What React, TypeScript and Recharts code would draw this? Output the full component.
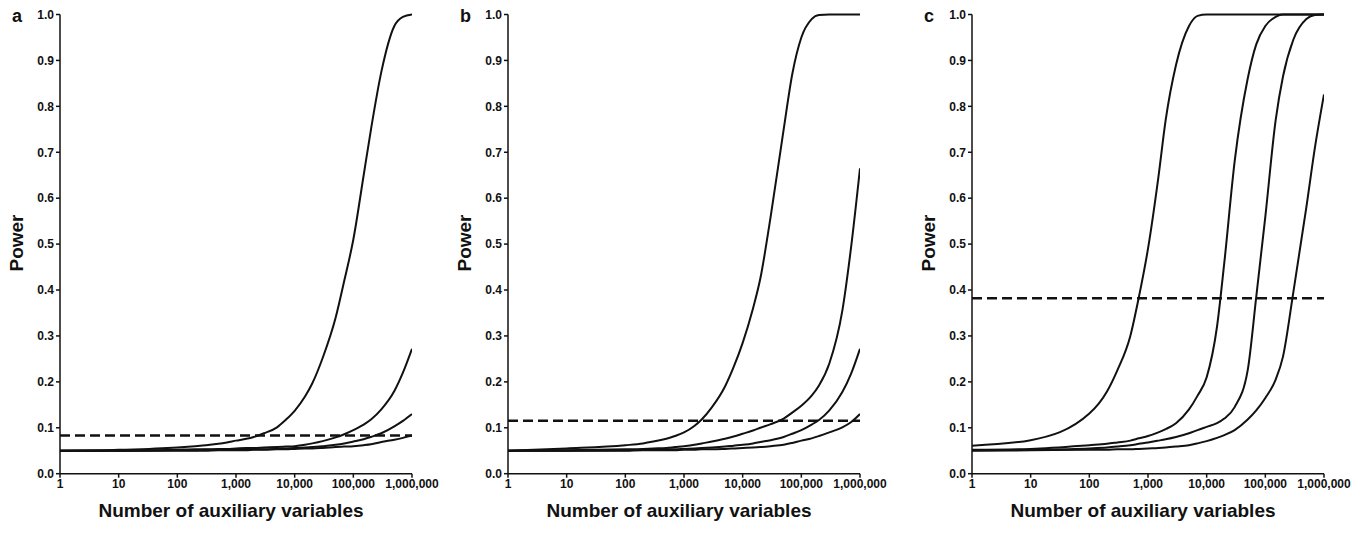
import React from 'react';
import { LineChart, Line, XAxis, YAxis, ReferenceLine } from 'recharts';

const N_VALUES = [1, 10, 100, 200, 300, 500, 700, 1000, 1500, 2000, 3000, 5000, 7000, 10000, 15000, 20000, 30000, 50000, 70000, 100000, 150000, 200000, 300000, 500000, 700000, 1000000];
const X_TICKS = [1, 10, 100, 1000, 10000, 100000, 1000000];
const Y_TICKS = [0, 0.1, 0.2, 0.3, 0.4, 0.5, 0.6, 0.7, 0.8, 0.9, 1.0];
const PANEL_LETTERS = ['a', 'b', 'c'];
const X_TITLE = 'Number of auxiliary variables';
const Y_TITLE = 'Power';

// Panel a
const A1 = [0.050, 0.052, 0.057, 0.060, 0.062, 0.065, 0.068, 0.072, 0.076, 0.080, 0.088, 0.101, 0.117, 0.137, 0.168, 0.197, 0.252, 0.340, 0.420, 0.510, 0.650, 0.750, 0.875, 0.975, 0.995, 1.000];
const A2 = [0.050, 0.050, 0.052, 0.053, 0.053, 0.054, 0.054, 0.055, 0.056, 0.056, 0.057, 0.058, 0.059, 0.060, 0.063, 0.066, 0.071, 0.079, 0.086, 0.095, 0.107, 0.118, 0.140, 0.180, 0.220, 0.272];
const A3 = [0.050, 0.050, 0.051, 0.051, 0.052, 0.052, 0.052, 0.052, 0.053, 0.053, 0.053, 0.054, 0.055, 0.056, 0.057, 0.058, 0.060, 0.063, 0.066, 0.070, 0.075, 0.080, 0.088, 0.103, 0.115, 0.130];
const A4 = [0.050, 0.050, 0.050, 0.050, 0.050, 0.051, 0.051, 0.051, 0.051, 0.052, 0.052, 0.053, 0.053, 0.054, 0.055, 0.055, 0.056, 0.058, 0.059, 0.060, 0.062, 0.064, 0.069, 0.074, 0.078, 0.083];
const A_DASH = 0.083;

// Panel b
const B1 = [0.050, 0.055, 0.062, 0.066, 0.070, 0.076, 0.082, 0.090, 0.104, 0.118, 0.145, 0.190, 0.232, 0.285, 0.360, 0.425, 0.560, 0.750, 0.870, 0.950, 0.990, 0.999, 1.000, 1.000, 1.000, 1.000];
const B2 = [0.050, 0.051, 0.053, 0.054, 0.055, 0.056, 0.058, 0.060, 0.063, 0.066, 0.070, 0.076, 0.081, 0.087, 0.094, 0.100, 0.108, 0.120, 0.133, 0.148, 0.170, 0.192, 0.240, 0.355, 0.490, 0.665];
const B3 = [0.050, 0.050, 0.051, 0.052, 0.052, 0.053, 0.053, 0.054, 0.055, 0.056, 0.057, 0.059, 0.061, 0.063, 0.066, 0.069, 0.073, 0.080, 0.087, 0.095, 0.107, 0.117, 0.138, 0.178, 0.217, 0.272];
const B4 = [0.050, 0.050, 0.050, 0.051, 0.051, 0.051, 0.051, 0.052, 0.052, 0.053, 0.053, 0.054, 0.055, 0.056, 0.057, 0.058, 0.060, 0.063, 0.067, 0.072, 0.077, 0.082, 0.090, 0.101, 0.112, 0.130];
const B_DASH = 0.1155;

// Panel c
const C1 = [0.061, 0.073, 0.131, 0.179, 0.225, 0.300, 0.385, 0.490, 0.645, 0.770, 0.890, 0.975, 0.997, 1.000, 1.000, 1.000, 1.000, 1.000, 1.000, 1.000, 1.000, 1.000, 1.000, 1.000, 1.000, 1.000];
const C2 = [0.052, 0.054, 0.062, 0.065, 0.068, 0.072, 0.077, 0.082, 0.090, 0.097, 0.110, 0.140, 0.170, 0.210, 0.320, 0.460, 0.680, 0.860, 0.935, 0.975, 0.995, 1.000, 1.000, 1.000, 1.000, 1.000];
const C3 = [0.051, 0.052, 0.055, 0.057, 0.059, 0.062, 0.065, 0.068, 0.072, 0.075, 0.080, 0.088, 0.095, 0.102, 0.110, 0.120, 0.145, 0.225, 0.385, 0.560, 0.770, 0.865, 0.945, 0.990, 0.999, 1.000];
const C4 = [0.050, 0.051, 0.052, 0.052, 0.053, 0.053, 0.054, 0.055, 0.056, 0.057, 0.059, 0.062, 0.066, 0.071, 0.078, 0.084, 0.095, 0.118, 0.138, 0.165, 0.205, 0.255, 0.395, 0.580, 0.710, 0.826];
const C_DASH = 0.382;

const FONT = '"Liberation Sans", Arial, Helvetica, sans-serif';

const buildRows = (series: number[][]) =>
  N_VALUES.map((n, i) => {
    const row: Record<string, number> = { n };
    series.forEach((s, k) => {
      row['s' + k] = s[i];
    });
    return row;
  });

const PANELS = [
  { letter: PANEL_LETTERS[0], plotLeft: 60, series: [A1, A2, A3, A4], dash: A_DASH },
  { letter: PANEL_LETTERS[1], plotLeft: 508, series: [B1, B2, B3, B4], dash: B_DASH },
  { letter: PANEL_LETTERS[2], plotLeft: 972, series: [C1, C2, C3, C4], dash: C_DASH },
];

const CHART_W = 452;
const CHART_H = 556;
const YAXIS_W = 60;
const PLOT_W = 352;

function Panel({ letter, plotLeft, series, dash }: { letter: string; plotLeft: number; series: number[][]; dash: number }) {
  const rows = buildRows(series);
  const left = plotLeft - YAXIS_W;
  const tickStyle = { fontFamily: FONT, fontSize: 12, fontWeight: 'bold' as const, fill: '#111' };
  return (
    <div style={{ position: 'absolute', left, top: 0, width: CHART_W, height: CHART_H }}>
      <LineChart width={CHART_W} height={CHART_H} data={rows} margin={{ top: 14.5, right: CHART_W - YAXIS_W - PLOT_W, bottom: 52.3, left: 0 }}>
        <XAxis
          dataKey="n"
          type="number"
          scale="log"
          domain={[1, 1000000]}
          ticks={X_TICKS}
          allowDataOverflow
          interval={0}
          height={30}
          tickSize={4}
          tickMargin={2}
          tickFormatter={(v: number) => v.toLocaleString('en-US')}
          tick={tickStyle}
          axisLine={{ stroke: '#111', strokeWidth: 1.5 }}
          tickLine={{ stroke: '#111', strokeWidth: 1.5 }}
        />
        <YAxis
          type="number"
          domain={[0, 1]}
          ticks={Y_TICKS}
          interval={0}
          width={YAXIS_W}
          tickSize={4}
          tickFormatter={(v: number) => v.toFixed(1)}
          tick={tickStyle}
          axisLine={{ stroke: '#111', strokeWidth: 1.5 }}
          tickLine={{ stroke: '#111', strokeWidth: 1.5 }}
        />
        <ReferenceLine y={dash} stroke="#111" strokeWidth={2.5} strokeDasharray="10 5" />
        {series.map((_, k) => (
          <Line
            key={k}
            dataKey={'s' + k}
            type="monotone"
            stroke="#111"
            strokeWidth={2}
            dot={false}
            activeDot={false}
            isAnimationActive={false}
          />
        ))}
      </LineChart>
      <div style={{ position: 'absolute', left: 12, top: 6, fontFamily: FONT, fontWeight: 'bold', fontSize: 18, lineHeight: '20px', color: '#111' }}>
        {letter}
      </div>
      <div
        style={{
          position: 'absolute',
          left: 17 - 40,
          top: 243 - 11,
          width: 80,
          height: 22,
          lineHeight: '22px',
          textAlign: 'center',
          transform: 'rotate(-90deg)',
          fontFamily: FONT,
          fontWeight: 'bold',
          fontSize: 19,
          color: '#111',
        }}
      >
        {Y_TITLE}
      </div>
      <div
        style={{
          position: 'absolute',
          left: YAXIS_W - 60,
          width: PLOT_W + 110,
          top: 499,
          height: 24,
          lineHeight: '24px',
          textAlign: 'center',
          fontFamily: FONT,
          fontWeight: 'bold',
          fontSize: 19,
          color: '#111',
          whiteSpace: 'nowrap',
        }}
      >
        {X_TITLE}
      </div>
    </div>
  );
}

export default function App() {
  return (
    <div style={{ position: 'absolute', left: 0, top: 0, width: 1362, height: 556, background: '#fff', overflow: 'hidden' }}>
      {PANELS.map((p) => (
        <Panel key={p.letter} letter={p.letter} plotLeft={p.plotLeft} series={p.series} dash={p.dash} />
      ))}
    </div>
  );
}
